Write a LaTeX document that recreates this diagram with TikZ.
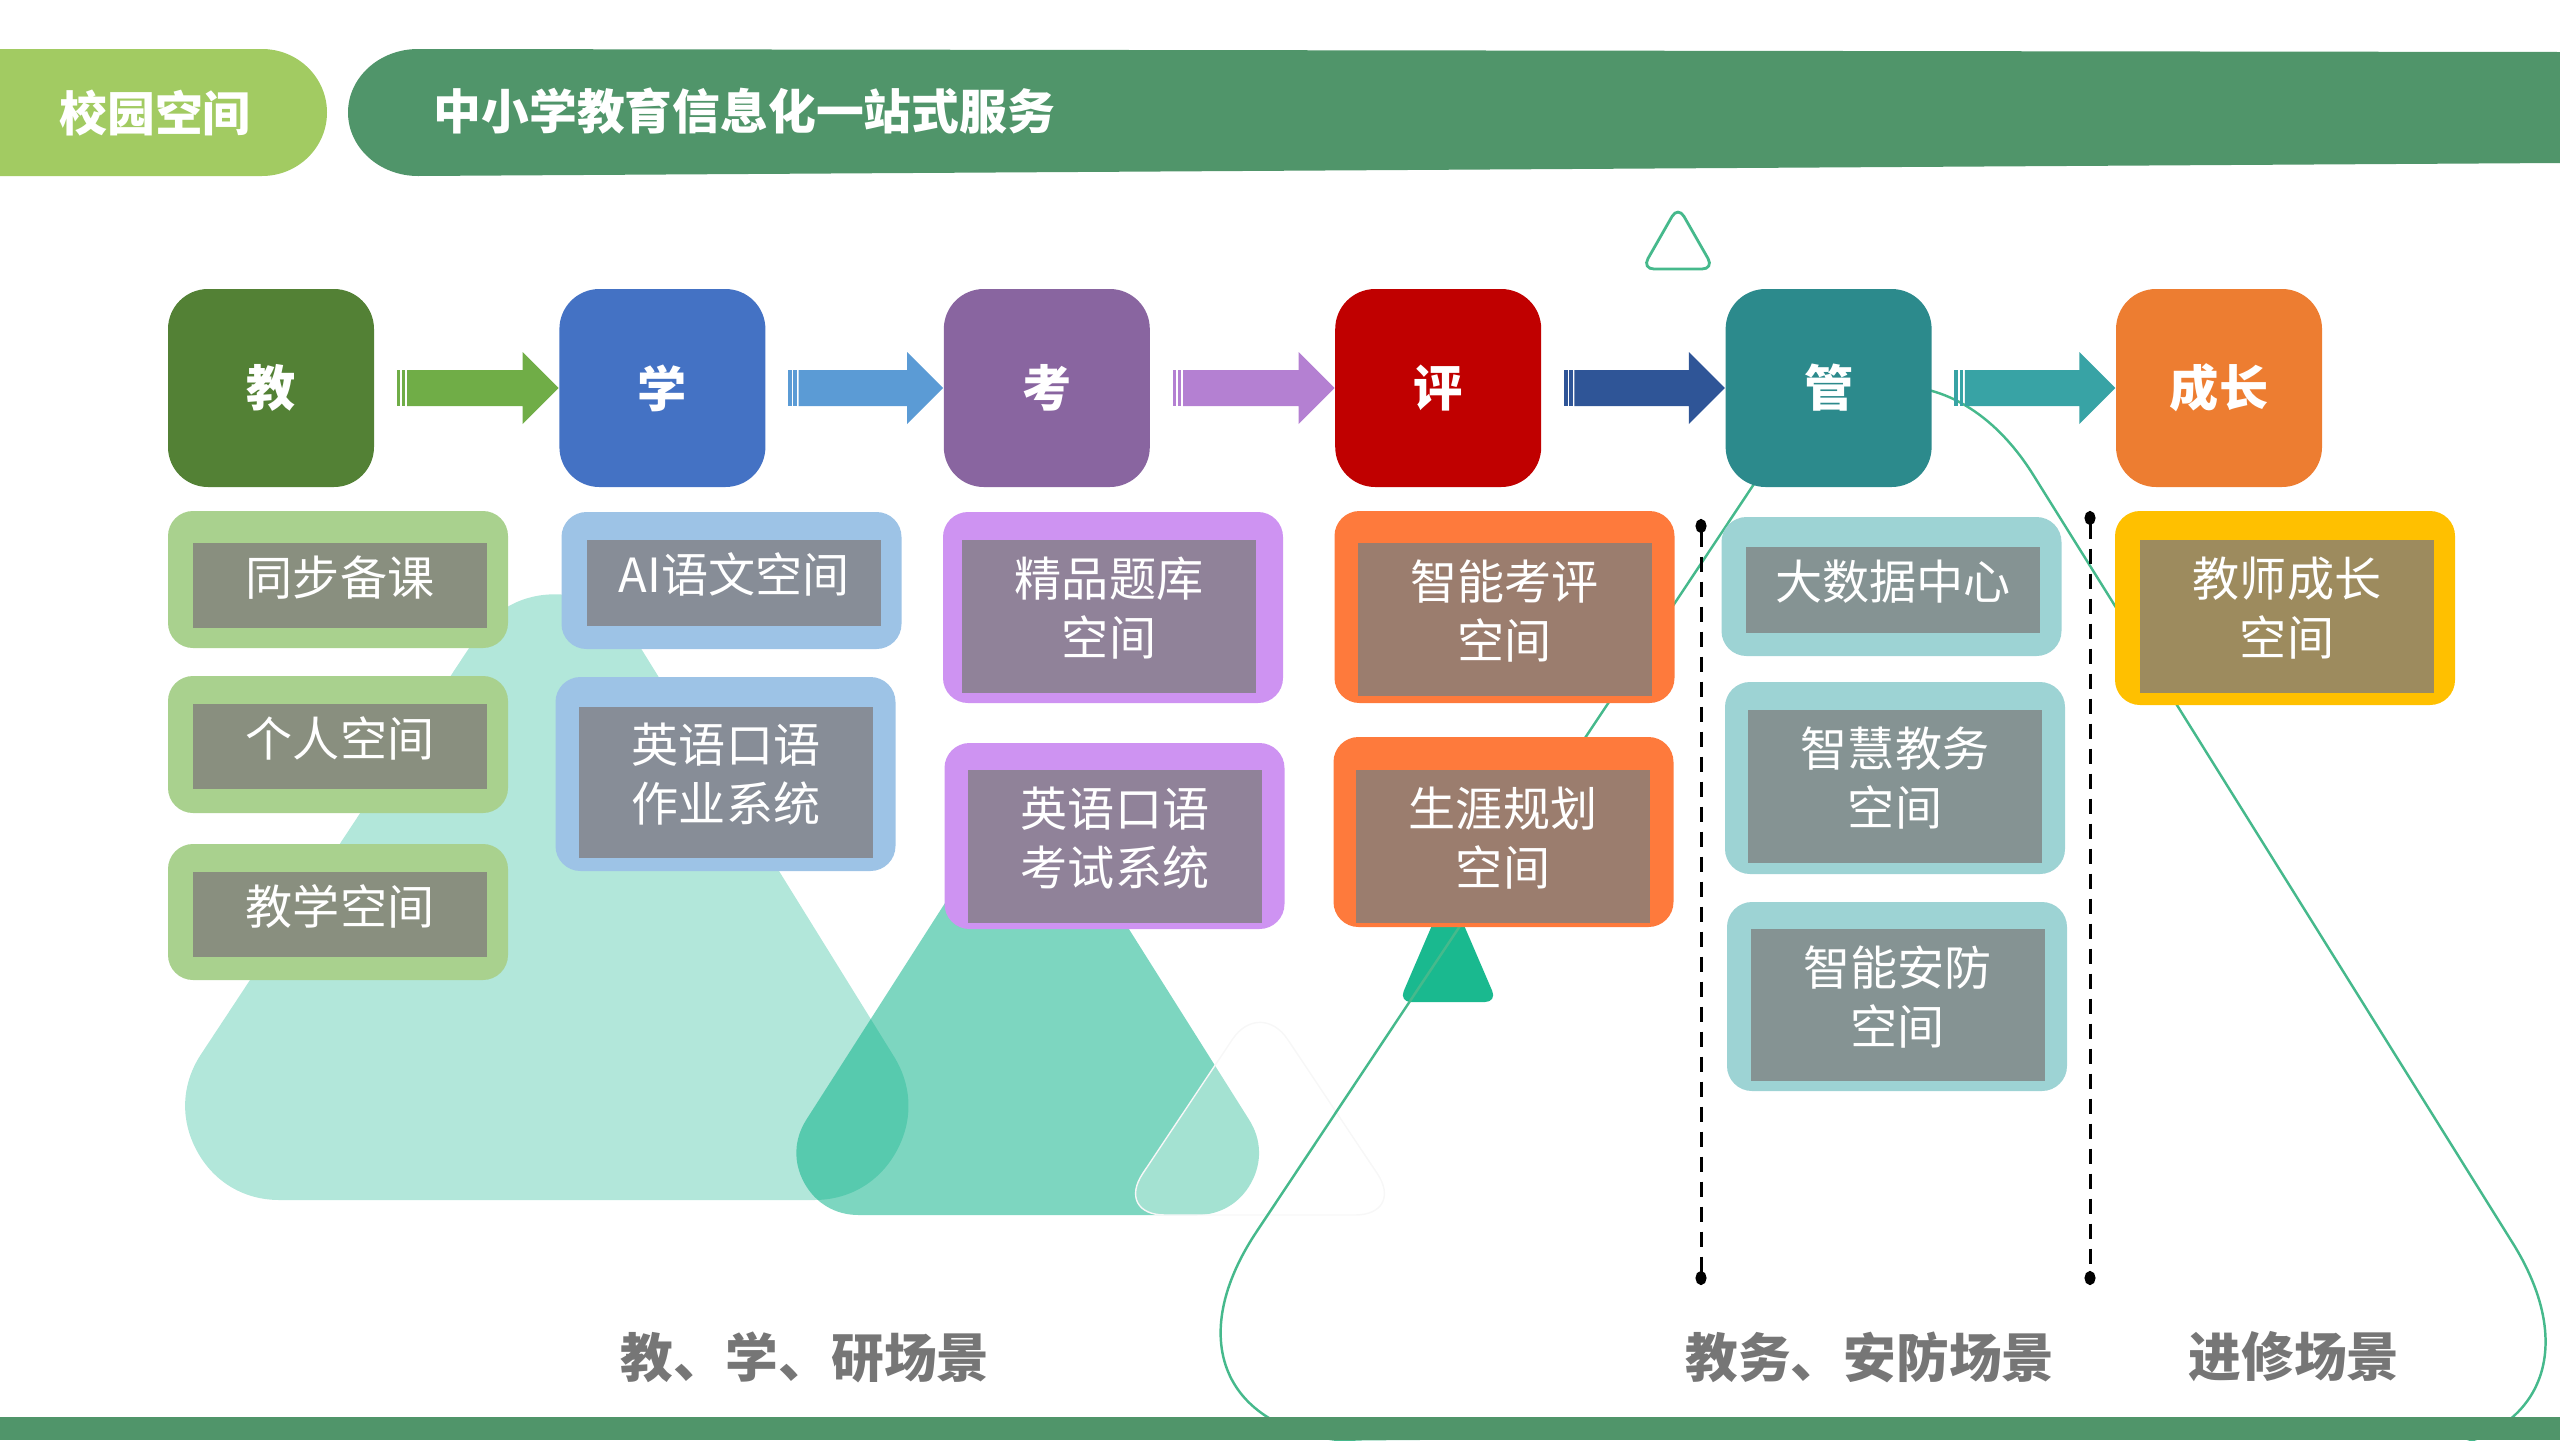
\documentclass[tikz,border=0pt]{standalone}
\usepackage{fontspec}
\setmainfont{Noto Sans CJK SC}
\usetikzlibrary{positioning}
\usetikzlibrary{calc}
\usetikzlibrary{arrows.meta}

\definecolor{hdrLight}{RGB}{162,203,98}
\definecolor{hdrDark}{RGB}{80,149,106}
\definecolor{hillGreen}{RGB}{5,176,134}
\definecolor{lineGreen}{RGB}{70,185,140}
\definecolor{tipGreen}{RGB}{26,185,143}
\definecolor{labelGray}{RGB}{118,118,118}
% top row
\definecolor{cJiao}{RGB}{83,129,53}
\definecolor{cXue}{RGB}{68,114,196}
\definecolor{cKao}{RGB}{137,101,160}
\definecolor{cPing}{RGB}{192,0,0}
\definecolor{cGuan}{RGB}{44,138,140}
\definecolor{cGrow}{RGB}{237,125,49}
% arrows
\definecolor{aJiao}{RGB}{112,173,71}
\definecolor{aXue}{RGB}{91,155,213}
\definecolor{aKao}{RGB}{180,128,210}
\definecolor{aPing}{RGB}{47,85,151}
\definecolor{aGuan}{RGB}{56,163,165}
% frames
\definecolor{fJiao}{RGB}{169,209,142}
\definecolor{fXue}{RGB}{157,195,230}
\definecolor{fKao}{RGB}{206,147,242}
\definecolor{fPing}{RGB}{254,122,60}
\definecolor{fGuan}{RGB}{157,211,212}
\definecolor{fGrow}{RGB}{255,192,0}
% item fills
\definecolor{iJiao}{RGB}{137,143,127}
\definecolor{iXue}{RGB}{135,141,151}
\definecolor{iKao}{RGB}{144,130,153}
\definecolor{iPing}{RGB}{155,125,110}
\definecolor{iGuan}{RGB}{133,147,147}
\definecolor{iGrow}{RGB}{157,139,94}

\tikzset {
  % big coloured step boxes
  stage/.style = {
    fill = #1,
    rounded corners = 0.4cm,
    minimum width = 2.06cm,
    minimum height = 1.98cm,
    inner sep = 0,
    text = white,
    font = \fontsize{14}{17}\selectfont\bfseries
  },
  % light rounded frame round an item
  frame/.style = {
    fill = #1,
    rounded corners = 0.25cm,
    minimum width = 3.40cm,
    inner sep = 0
  },
  % grey text box inside a frame
  item/.style = {
    fill = #1,
    minimum width = 2.94cm,
    inner sep = 0,
    align = center,
    text = white,
    text depth = 0.2cm,
    font = \fontsize{13.4}{16.8}\selectfont
  },
  % round-cornered triangle: a fat stroke round a smaller one
  hill/.style = {
    fill = hillGreen,
    draw = hillGreen,
    line width = #1,
    line join = round
  },
  outline/.style = {
    draw = lineGreen,
    line width = 0.7pt,
    rounded corners = 2.5cm
  },
  sepline/.style = {
    draw = black,
    line width = 0.85pt,
    dash pattern = on 0.15cm off 0.1cm,
    {Circle[length=0.14cm,width=0.11cm]}-{Circle[length=0.14cm,width=0.11cm]}
  },
  scene/.style = {
    text = labelGray,
    font = \fontsize{15}{18}\selectfont\bfseries
  }
}

\begin{document}
\begin{tikzpicture}
  \clip (0,0) rectangle (25.6,-14.4);

  % background shapes
  \begin{scope}[transparency group, opacity = 0.31]
    \filldraw[hill = 1.88cm] (5.551,-6.883) -- (8.141,-11.06) -- (2.795,-11.06) -- cycle;
  \end{scope}
  \begin{scope}[transparency group, opacity = 0.52]
    \filldraw[hill = 1.24cm] (10.29,-8.868) -- (11.968,-11.53) -- (8.586,-11.53) -- cycle;
  \end{scope}
  \filldraw[fill = white, fill opacity = 0.3, draw = black!3, rounded corners = 0.5cm]
    (12.6,-12.15) -- (14.05,-12.15) -- (12.60,-9.98) -- (11.15,-12.15) -- cycle;
  \fill[tipGreen, rounded corners = 0.12cm] (14.48,-10.02) -- (14.97,-10.02) -- (14.48,-8.88) -- (13.99,-10.02) -- cycle;
  \draw[outline] (18.0,-14.45) -- (26.45,-14.55) -- (19.01,-2.63) -- (11.18,-14.4) -- cycle;
  \draw[lineGreen, line width = 0.8pt, rounded corners = 0.12cm]
    (16.78,-2.69) -- (17.14,-2.69) -- (16.78,-2.06) -- (16.42,-2.69) -- cycle;

  % header
  \fill[hdrLight] (0,-0.49) -- (2.62,-0.49)
    arc[start angle = 90, end angle = -90, x radius = 0.65, y radius = 0.635] -- (0,-1.76) -- cycle;
  \fill[hdrDark] (4.18,-0.49) -- (25.6,-0.52) -- (25.6,-1.63) -- (4.18,-1.76)
    arc[start angle = 270, end angle = 90, x radius = 0.70, y radius = 0.635] -- cycle;
  \node[text = white, font = \fontsize{13.6}{16}\selectfont\bfseries] (campus) at (1.55,-1.13) {校园空间};
  \node[text = white, font = \fontsize{13.6}{16}\selectfont\bfseries, anchor = west, inner sep = 0]
    (service) at (4.33,-1.11) {中小学教育信息化一站式服务};

  % top row
  \node[stage = cJiao] (jiao) at (2.71,-3.88) {教};
  \node[stage = cXue] (xue) [right = 1.84cm of jiao] {学};
  \node[stage = cKao] (kao) [right = 1.77cm of xue] {考};
  \node[stage = cPing] (ping) [right = 1.84cm of kao] {评};
  \node[stage = cGuan] (guan) [right = 1.83cm of ping] {管};
  \node[stage = cGrow] (grow) [right = 1.83cm of guan] {成长};

  \foreach \a/\b/\c in {jiao/xue/aJiao, xue/kao/aXue, kao/ping/aKao, ping/guan/aPing, guan/grow/aGuan} {
    \fill[\c] ($(\a.east)+(0.22,-0.18)$) rectangle ++(0.036,0.36);
    \fill[\c] ($(\a.east)+(0.272,-0.18)$) rectangle ++(0.035,0.36);
    \fill[\c] ($(\a.east)+(0.325,-0.18)$)
      -- ($(\b.west)+(-0.36,-0.18)$) -- ($(\b.west)+(-0.36,-0.36)$)
      -- (\b.west)
      -- ($(\b.west)+(-0.36,0.36)$) -- ($(\b.west)+(-0.36,0.18)$)
      -- ($(\a.east)+(0.325,0.18)$) -- cycle;
  }

  % items under 教
  \node[frame = fJiao, minimum height = 1.37cm] (f1a) at (3.38,-5.795) {};
  \node[item = iJiao, minimum height = 0.85cm] (s1a) at (3.40,-5.855) {同步备课};
  \node[frame = fJiao, minimum height = 1.37cm] (f1b) at (3.38,-7.445) {};
  \node[item = iJiao, minimum height = 0.85cm] (s1b) at (3.40,-7.465) {个人空间};
  \node[frame = fJiao, minimum height = 1.36cm] (f1c) at (3.38,-9.12) {};
  \node[item = iJiao, minimum height = 0.85cm] (s1c) at (3.40,-9.145) {教学空间};

  % items under 学
  \node[frame = fXue, minimum height = 1.37cm] (f2a) at (7.315,-5.805) {};
  \node[item = iXue, minimum height = 0.86cm] (s2a) at (7.34,-5.83) {AI语文空间};
  \node[frame = fXue, minimum height = 1.94cm] (f2b) at (7.255,-7.74) {};
  \node[item = iXue, minimum height = 1.51cm] (s2b) at (7.26,-7.825) {英语口语\\作业系统};

  % items under 考
  \node[frame = fKao, minimum height = 1.91cm] (f3a) at (11.13,-6.075) {};
  \node[item = iKao, minimum height = 1.53cm] (s3a) at (11.09,-6.165) {精品题库\\空间};
  \node[frame = fKao, minimum height = 1.86cm] (f3b) at (11.145,-8.36) {};
  \node[item = iKao, minimum height = 1.53cm] (s3b) at (11.15,-8.465) {英语口语\\考试系统};

  % items under 评
  \node[frame = fPing, minimum height = 1.92cm] (f4a) at (15.045,-6.07) {};
  \node[item = iPing, minimum height = 1.53cm] (s4a) at (15.045,-6.195) {智能考评\\空间};
  \node[frame = fPing, minimum height = 1.90cm] (f4b) at (15.035,-8.32) {};
  \node[item = iPing, minimum height = 1.53cm] (s4b) at (15.03,-8.465) {生涯规划\\空间};

  % items under 管
  \node[frame = fGuan, minimum height = 1.39cm] (f5a) at (18.915,-5.865) {};
  \node[item = iGuan, minimum height = 0.86cm] (s5a) at (18.93,-5.90) {大数据中心};
  \node[frame = fGuan, minimum height = 1.92cm] (f5b) at (18.95,-7.78) {};
  \node[item = iGuan, minimum height = 1.53cm] (s5b) at (18.95,-7.865) {智慧教务\\空间};
  \node[frame = fGuan, minimum height = 1.89cm] (f5c) at (18.97,-9.965) {};
  \node[item = iGuan, minimum height = 1.52cm] (s5c) at (18.975,-10.05) {智能安防\\空间};

  % items under 成长
  \node[frame = fGrow, minimum height = 1.94cm] (f6a) at (22.85,-6.08) {};
  \node[item = iGrow, minimum height = 1.53cm] (s6a) at (22.87,-6.165) {教师成长\\空间};

  % scene separators
  \coordinate (sep1-top) at (17.01,-5.19);
  \coordinate (sep1-bot) at (17.01,-12.85);
  \coordinate (sep2-top) at (20.90,-5.11);
  \coordinate (sep2-bot) at (20.90,-12.85);
  \draw[sepline] (sep1-top) -- (sep1-bot);
  \draw[sepline] (sep2-top) -- (sep2-bot);

  % scene labels
  \node[scene] (scene-teach) at (8.05,-13.57) {教、学、研场景};
  \node[scene] (scene-admin) at (18.70,-13.57) {教务、安防场景};
  \node[scene] (scene-train) at (22.94,-13.57) {进修场景};

  \fill[hdrDark] (0,-14.17) rectangle (25.6,-14.4);
\end{tikzpicture}
\end{document}
